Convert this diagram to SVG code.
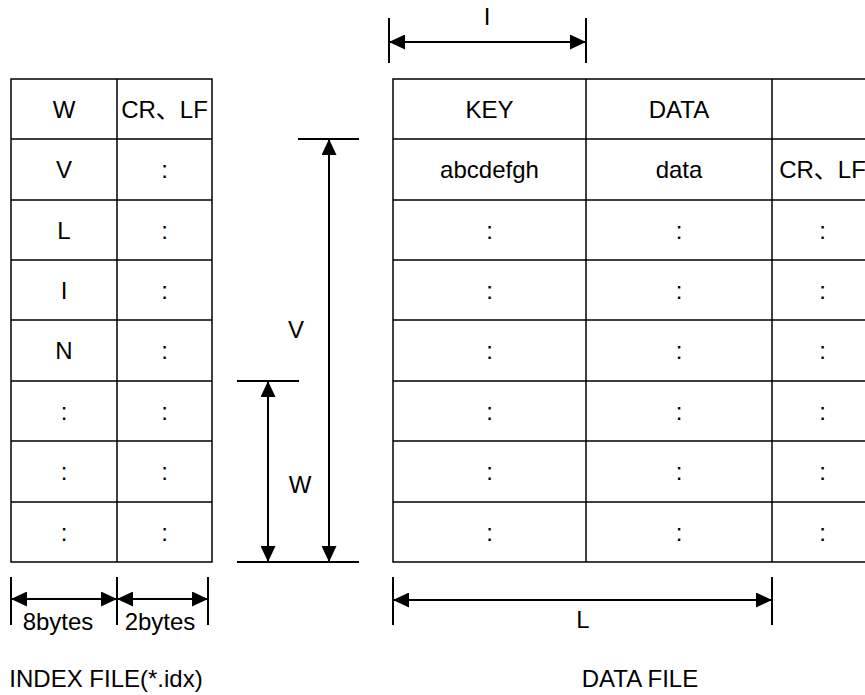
<svg xmlns="http://www.w3.org/2000/svg" width="865" height="695" viewBox="0 0 865 695">
<defs>
<style>
.t{font-family:"Liberation Sans",Arial,"Noto Sans CJK JP",sans-serif;font-size:24px;fill:#000;text-anchor:middle}
.g{stroke:#000;stroke-width:1.5;fill:none}
.d{stroke:#000;stroke-width:2;fill:none}
.a{stroke:#000;stroke-width:2;fill:none;marker-start:url(#ah);marker-end:url(#ah)}
</style>
<marker id="ah" markerUnits="userSpaceOnUse" markerWidth="16" markerHeight="15" refX="16" refY="7.5" orient="auto-start-reverse" viewBox="0 0 16 15">
<path d="M0,0 L16,7.5 L0,15 z" fill="#000"/>
</marker>
</defs>
<rect width="865" height="695" fill="#fff"/>
<g id="index-table">
<path class="g" d="M11,79 H212 V562 H11 Z M117,79 V562 M11,139 H212 M11,200 H212 M11,260 H212 M11,320 H212 M11,381 H212 M11,441 H212 M11,502 H212"/>
<text class="t" x="64" y="118">W</text>
<text class="t" x="164.5" y="118">CR、LF</text>
<text class="t" x="64" y="178">V</text>
<text class="t" x="164.5" y="178">:</text>
<text class="t" x="64" y="239">L</text>
<text class="t" x="164.5" y="239">:</text>
<text class="t" x="64" y="299">I</text>
<text class="t" x="164.5" y="299">:</text>
<text class="t" x="64" y="359">N</text>
<text class="t" x="164.5" y="359">:</text>
<text class="t" x="64" y="420">:</text>
<text class="t" x="164.5" y="420">:</text>
<text class="t" x="64" y="480">:</text>
<text class="t" x="164.5" y="480">:</text>
<text class="t" x="64" y="541">:</text>
<text class="t" x="164.5" y="541">:</text>
</g>
<g id="data-table">
<path class="g" d="M866,79 H393 V562 H866 M586,79 V562 M772,79 V562 M393,139 H866 M393,200 H866 M393,260 H866 M393,320 H866 M393,381 H866 M393,441 H866 M393,502 H866"/>
<text class="t" x="489.5" y="118">KEY</text>
<text class="t" x="679" y="118">DATA</text>
<text class="t" x="489.5" y="178">abcdefgh</text>
<text class="t" x="679" y="178">data</text>
<text class="t" x="822.5" y="178">CR、LF</text>
<text class="t" x="489.5" y="239">:</text><text class="t" x="679" y="239">:</text><text class="t" x="822.5" y="239">:</text>
<text class="t" x="489.5" y="299">:</text><text class="t" x="679" y="299">:</text><text class="t" x="822.5" y="299">:</text>
<text class="t" x="489.5" y="359">:</text><text class="t" x="679" y="359">:</text><text class="t" x="822.5" y="359">:</text>
<text class="t" x="489.5" y="420">:</text><text class="t" x="679" y="420">:</text><text class="t" x="822.5" y="420">:</text>
<text class="t" x="489.5" y="480">:</text><text class="t" x="679" y="480">:</text><text class="t" x="822.5" y="480">:</text>
<text class="t" x="489.5" y="541">:</text><text class="t" x="679" y="541">:</text><text class="t" x="822.5" y="541">:</text>
</g>
<g id="connectors">
<path class="d" d="M389,18 V63 M586,18 V63 M11,577 V625 M117,577 V625 M208,577 V625 M393,577 V625 M772,577 V625 M298,139 H359 M237,381 H299 M237,562 H359"/>
<line class="a" x1="389" y1="42" x2="586" y2="42"/>
<line class="a" x1="11" y1="599" x2="117" y2="599"/>
<line class="a" x1="117" y1="599" x2="208" y2="599"/>
<line class="a" x1="393" y1="600" x2="772" y2="600"/>
<line class="a" x1="329" y1="139" x2="329" y2="562"/>
<line class="a" x1="268" y1="381" x2="268" y2="562"/>
</g>
<g id="labels">
<text class="t" x="487" y="25">I</text>
<text class="t" x="296" y="338">V</text>
<text class="t" x="300" y="493">W</text>
<text class="t" x="58" y="630">8bytes</text>
<text class="t" x="160" y="630">2bytes</text>
<text class="t" x="583" y="628">L</text>
<text class="t" x="106" y="687">INDEX FILE(*.idx)</text>
<text class="t" x="640" y="687">DATA FILE</text>
</g>
</svg>
